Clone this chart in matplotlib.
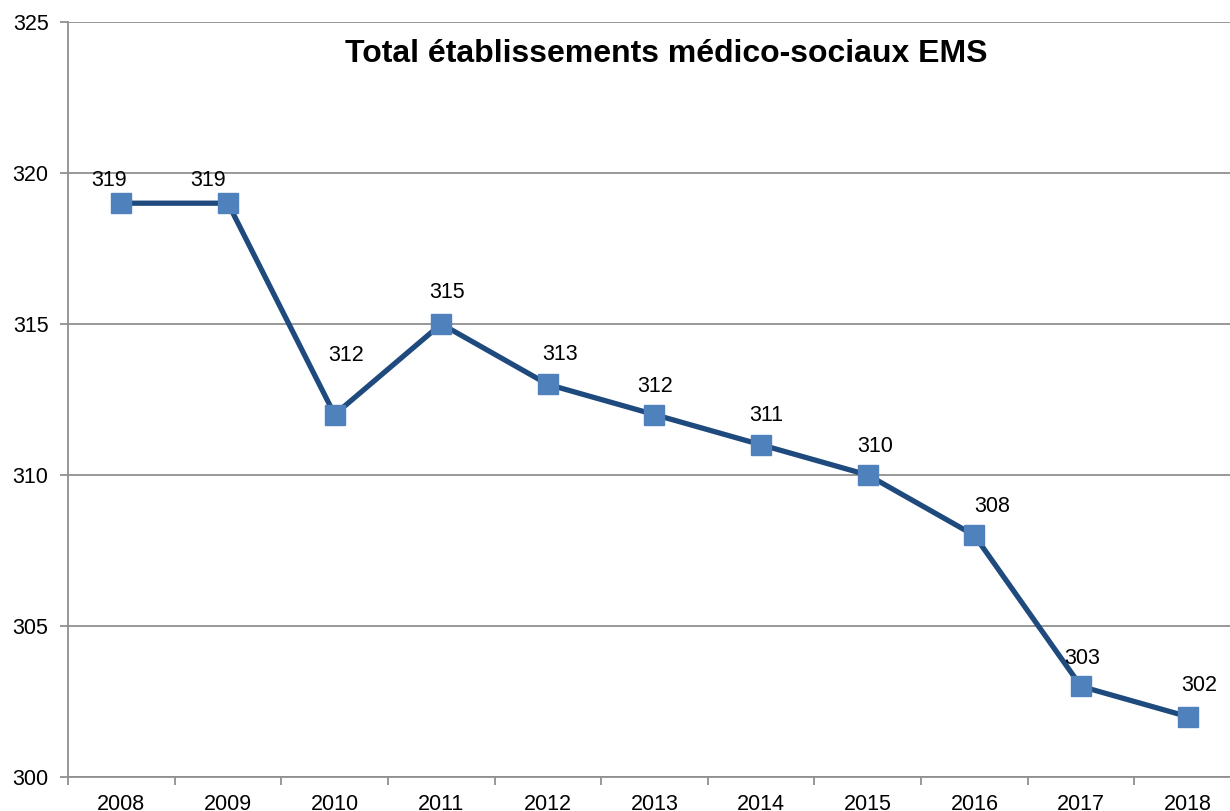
import matplotlib
matplotlib.use("Agg")
import matplotlib.pyplot as plt
import numpy as np

years = ["2008", "2009", "2010", "2011", "2012", "2013", "2014", "2015", "2016", "2017", "2018"]
values = [319, 319, 312, 315, 313, 312, 311, 310, 308, 303, 302]
title = "Total établissements médico-sociaux EMS"

# label offsets (pixels) relative to each point: (dx, dy)
label_offsets = [(-12, 23), (-20, 23), (12, 59), (6, 32), (12, 30), (1, 28),
                 (5, 29), (7, 29), (18, 29), (1, 28), (12, 31)]

plt.rcParams['font.family'] = ['Liberation Sans', 'DejaVu Sans']
W, H = 1230, 811
fig = plt.figure(figsize=(W / 100, H / 100), dpi=100)
left, right, bottom, top = 68, 1241, 777, 22
ax = fig.add_axes([left / W, (H - bottom) / H, (right - left) / W, (bottom - top) / H])

x = np.arange(len(years))
ax.plot(x, values, color='#1F4A7E', linewidth=3.8, marker='s', markersize=15,
        markerfacecolor='#4F81BD', markeredgecolor='#4F81BD', zorder=3, clip_on=False)

px = 72 / 100
for xi, v, (dx, dy) in zip(x, values, label_offsets):
    ax.annotate(str(v), (xi, v), xytext=(dx * px, dy * px), textcoords='offset points',
                ha='center', va='center', fontsize=15.5, color='black', zorder=4)

ax.set_xlim(-0.5, len(years) - 0.5)
ax.set_ylim(300, 325)
ax.set_yticks([300, 305, 310, 315, 320, 325])
ax.set_xticks(x)
ax.set_xticklabels(years)
ax.set_xticks(np.arange(len(years) + 1) - 0.5, minor=True)
ax.tick_params(axis='x', which='major', length=0, labelsize=15.5, pad=12)
ax.tick_params(axis='x', which='minor', length=6, width=1.3, color='#909090', direction='out')
ax.tick_params(axis='y', which='major', length=6, width=1.3, color='#909090', labelsize=15.5, pad=8)
ax.grid(axis='y', color='#909090', linewidth=1.3)
ax.set_axisbelow(True)
for s in ['top', 'right']:
    ax.spines[s].set_visible(False)
for s in ['left', 'bottom']:
    ax.spines[s].set_color('#909090')
    ax.spines[s].set_linewidth(1.3)

fig.text(666 / W, 1 - 54 / H, title, ha='center', va='center', fontsize=23, fontweight='bold')

fig.savefig('out.png', dpi=100)
